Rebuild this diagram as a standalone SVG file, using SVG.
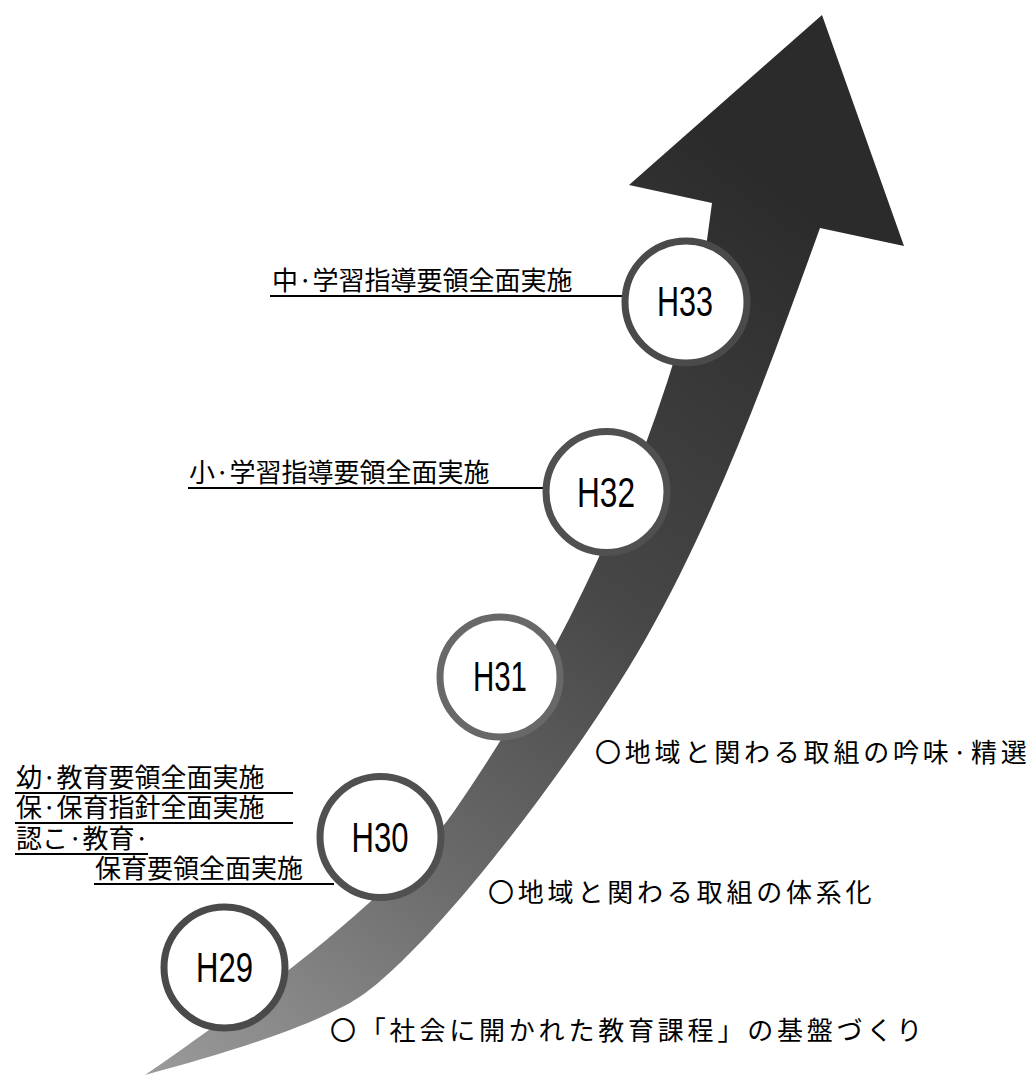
<svg xmlns="http://www.w3.org/2000/svg" width="1033" height="1077" viewBox="0 0 1033 1077">
<defs>
<linearGradient id="band" gradientUnits="userSpaceOnUse" x1="150" y1="1070" x2="800" y2="200">
<stop offset="0" stop-color="#9a9a9a"/>
<stop offset="0.3" stop-color="#6c6c6c"/>
<stop offset="0.6" stop-color="#474747"/>
<stop offset="1" stop-color="#2b2b2b"/>
</linearGradient>
<style>
.node circle{fill:#fff;stroke:#4a4a4a;stroke-width:7}
.hl{font-family:"Liberation Sans",Arial,sans-serif;font-size:42px;fill:#000;text-anchor:middle}
.lbl{font-family:"Noto Sans CJK JP","Noto Sans CJK SC",sans-serif;font-size:26px;fill:#000}
.rt{font-family:"Noto Sans CJK JP","Noto Sans CJK SC",sans-serif;font-size:26px;letter-spacing:3.8px;fill:#000}
.conn line{stroke:#000;stroke-width:2}
</style>
</defs>
<rect width="1033" height="1077" fill="#fff"/>
<g id="arrow">
<path d="M145,1075 C230,1052 300,1030 350,1003 C420,965 577,760 645,640 C719,510 773,358 820,228 L904,246 L822,15 L629,185 L712,203 L707,240 C662,430 586,620 455,810 C393,900 232,1015 145,1075 Z" fill="url(#band)"/>
</g>
<g id="connectors" class="conn">
<line x1="270" y1="296" x2="623" y2="296"/>
<line x1="188" y1="488" x2="544" y2="488"/>
<line x1="15" y1="793" x2="293" y2="793"/>
<line x1="15" y1="823" x2="293" y2="823"/>
<line x1="15" y1="854" x2="148" y2="854"/>
<line x1="94" y1="884" x2="334" y2="884"/>
</g>
<g id="node-h29" class="node"><circle cx="224.5" cy="967.5" r="60.5"/><text class="hl" x="224.5" y="982" textLength="57" lengthAdjust="spacingAndGlyphs">H29</text></g>
<g id="node-h30" class="node"><circle cx="380.5" cy="837" r="60.5" style="stroke:#505050"/><text class="hl" x="380" y="852" textLength="57" lengthAdjust="spacingAndGlyphs">H30</text></g>
<g id="node-h31" class="node"><circle cx="500" cy="677" r="60" style="stroke:#686868"/><text class="hl" x="500" y="691" textLength="54" lengthAdjust="spacingAndGlyphs">H31</text></g>
<g id="node-h32" class="node"><circle cx="606.5" cy="492" r="60.5" style="stroke:#505050"/><text class="hl" x="606" y="507" textLength="58" lengthAdjust="spacingAndGlyphs">H32</text></g>
<g id="node-h33" class="node"><circle cx="686" cy="302" r="61"/><text class="hl" x="685" y="316" textLength="56" lengthAdjust="spacingAndGlyphs">H33</text></g>
<g id="labels">
<text class="lbl" x="272" y="290">中·学習指導要領全面実施</text>
<text class="lbl" x="189" y="482">小·学習指導要領全面実施</text>
<text class="lbl" x="16" y="787">幼·教育要領全面実施</text>
<text class="lbl" x="16" y="817">保·保育指針全面実施</text>
<text class="lbl" x="16" y="848">認こ·教育·</text>
<text class="lbl" x="95" y="878">保育要領全面実施</text>
<text class="rt" x="595" y="762">〇地域と関わる取組の吟味·精選</text>
<text class="rt" x="488" y="902">〇地域と関わる取組の体系化</text>
<text class="rt" x="330" y="1040">〇「社会に開かれた教育課程」の基盤づくり</text>
</g>
</svg>
